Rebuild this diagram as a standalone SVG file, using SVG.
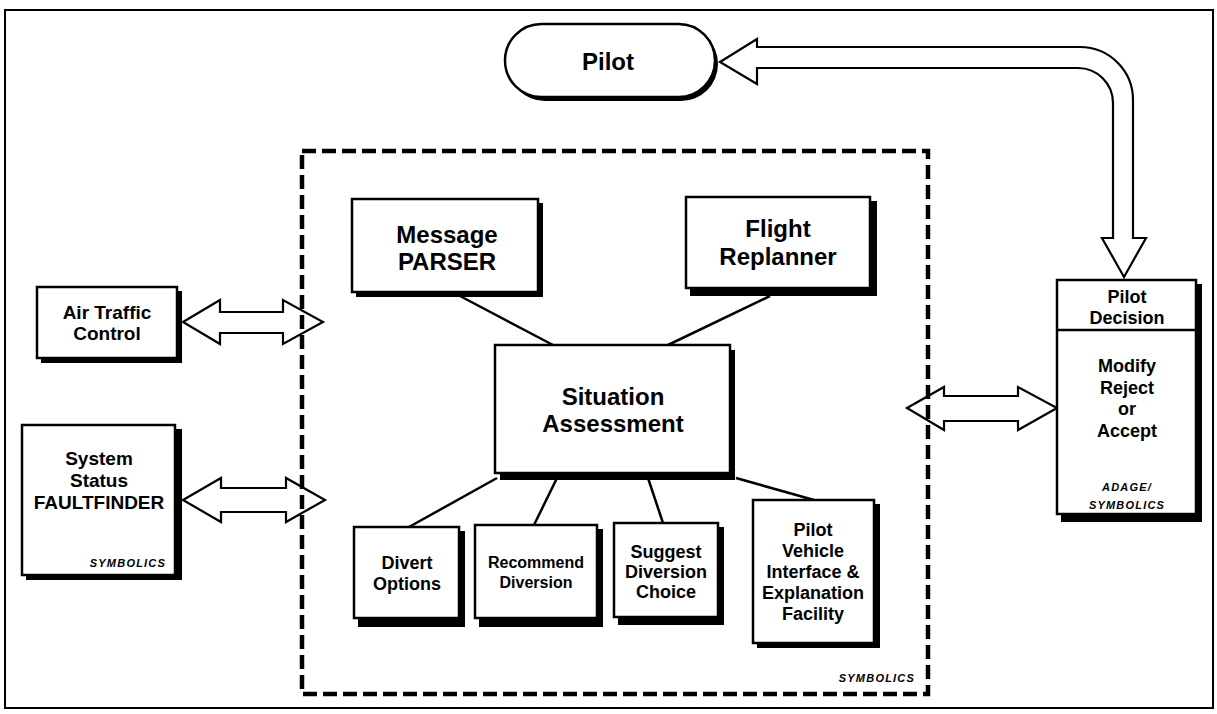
<svg xmlns="http://www.w3.org/2000/svg" width="1217" height="714" viewBox="0 0 1217 714">
<style>
.frame{fill:none;stroke:#000;stroke-width:2}
.box{fill:#fff;stroke:#000;stroke-width:2.5}
.sh{fill:#000}
.t{font-family:"Liberation Sans",Arial,Helvetica,sans-serif;font-weight:bold;text-anchor:middle;fill:#000}
.L{font-size:24px}
.M{font-size:19px}
.S{font-size:18px}
.XS{font-size:16px}
.tag{font-family:"Liberation Sans",Arial,Helvetica,sans-serif;font-weight:bold;font-style:italic;font-size:11px;letter-spacing:1.2px;fill:#000}
.line{stroke:#000;stroke-width:2.5;fill:none}
.dbl{fill:#fff;stroke:#000;stroke-width:2.2;stroke-linejoin:miter}
.dash{fill:none;stroke:#000;stroke-width:4.5;stroke-dasharray:14 6}
</style>
<rect class="frame" x="5" y="10" width="1208" height="698"/>

<g id="connectors">
  <line class="line" x1="460" y1="296" x2="553" y2="345"/>
  <line class="line" x1="770" y1="296" x2="668" y2="345"/>
  <line class="line" x1="497" y1="478" x2="409" y2="527"/>
  <line class="line" x1="557" y1="478" x2="534" y2="525"/>
  <line class="line" x1="648" y1="478" x2="663" y2="523"/>
  <line class="line" x1="736" y1="478" x2="814" y2="500"/>
  <polygon class="dbl" points="183,322 220,300 220,312 283,312 283,300 323,322 283,344 283,333 220,333 220,344"/>
  <polygon class="dbl" points="183,500 221,478 221,488 286,488 286,478 325,500 286,522 286,512 221,512 221,522"/>
  <polygon class="dbl" points="907,408 944,387 944,396 1018,396 1018,387 1057,408 1018,430 1018,421 944,421 944,430"/>
  <path class="dbl" d="M720,62 L757,39 L757,47 L1080,47 A53,53 0 0 1 1133,100 L1133,238 L1146,238 L1124,277 L1102,238 L1113,238 L1113,103 A35,35 0 0 0 1078,68 L757,68 L757,84 Z"/>
</g>

<g id="symbolics-container">
  <rect class="dash" x="302" y="151" width="626" height="543"/>
  <text class="tag" x="915" y="682" text-anchor="end">SYMBOLICS</text>
</g>

<g id="pilot">
  <rect class="sh" x="508" y="27" width="210" height="74" rx="37"/>
  <rect class="box" x="505" y="24" width="210" height="73" rx="36.5"/>
  <text class="t L" x="608" y="70">Pilot</text>
</g>

<g id="air-traffic-control">
  <rect class="sh" x="41" y="291" width="141" height="72"/>
  <rect class="box" x="37" y="287" width="140" height="71"/>
  <text class="t M" x="107" y="319">Air Traffic</text>
  <text class="t M" x="107" y="340">Control</text>
</g>

<g id="system-status">
  <rect class="sh" x="26" y="429" width="156" height="151"/>
  <rect class="box" x="22" y="425" width="153" height="150"/>
  <text class="t M" x="99" y="465">System</text>
  <text class="t M" x="99" y="487">Status</text>
  <text class="t M" x="99" y="509">FAULTFINDER</text>
  <text class="tag" x="166" y="567" text-anchor="end">SYMBOLICS</text>
</g>

<g id="message-parser">
  <rect class="sh" x="356" y="203" width="187" height="94"/>
  <rect class="box" x="352" y="199" width="186" height="93"/>
  <text class="t L" x="447" y="243">Message</text>
  <text class="t L" x="447" y="270">PARSER</text>
</g>

<g id="flight-replanner">
  <rect class="sh" x="690" y="201" width="187" height="95"/>
  <rect class="box" x="686" y="197" width="184" height="91"/>
  <text class="t L" x="778" y="237">Flight</text>
  <text class="t L" x="778" y="265">Replanner</text>
</g>

<g id="situation-assessment">
  <rect class="sh" x="500" y="350" width="235" height="130"/>
  <rect class="box" x="495" y="345" width="235" height="128"/>
  <text class="t L" x="613" y="405">Situation</text>
  <text class="t L" x="613" y="432">Assessment</text>
</g>

<g id="divert-options">
  <rect class="sh" x="358" y="531" width="107" height="96"/>
  <rect class="box" x="354" y="527" width="105" height="91"/>
  <text class="t S" x="407" y="569">Divert</text>
  <text class="t S" x="407" y="590">Options</text>
</g>

<g id="recommend-diversion">
  <rect class="sh" x="479" y="529" width="124" height="98"/>
  <rect class="box" x="475" y="525" width="122" height="93"/>
  <text class="t XS" x="536" y="568">Recommend</text>
  <text class="t XS" x="536" y="588">Diversion</text>
</g>

<g id="suggest-diversion">
  <rect class="sh" x="618" y="527" width="106" height="98"/>
  <rect class="box" x="614" y="523" width="104" height="94"/>
  <text class="t S" x="666" y="558">Suggest</text>
  <text class="t S" x="666" y="578">Diversion</text>
  <text class="t S" x="666" y="598">Choice</text>
</g>

<g id="pilot-vehicle-interface">
  <rect class="sh" x="757" y="504" width="123" height="144"/>
  <rect class="box" x="753" y="500" width="121" height="143"/>
  <text class="t S" x="813" y="536">Pilot</text>
  <text class="t S" x="813" y="557">Vehicle</text>
  <text class="t S" x="813" y="578">Interface &amp;</text>
  <text class="t S" x="813" y="599">Explanation</text>
  <text class="t S" x="813" y="620">Facility</text>
</g>

<g id="pilot-decision">
  <rect class="sh" x="1061" y="284" width="141" height="238"/>
  <rect class="box" x="1057" y="280" width="139" height="234"/>
  <line class="line" x1="1057" y1="330" x2="1196" y2="330"/>
  <text class="t S" x="1127" y="303">Pilot</text>
  <text class="t S" x="1127" y="324">Decision</text>
  <text class="t S" x="1127" y="372">Modify</text>
  <text class="t S" x="1127" y="394">Reject</text>
  <text class="t S" x="1127" y="415">or</text>
  <text class="t S" x="1127" y="437">Accept</text>
  <text class="tag" x="1127" y="491" text-anchor="middle">ADAGE/</text>
  <text class="tag" x="1127" y="509" text-anchor="middle">SYMBOLICS</text>
</g>
</svg>
